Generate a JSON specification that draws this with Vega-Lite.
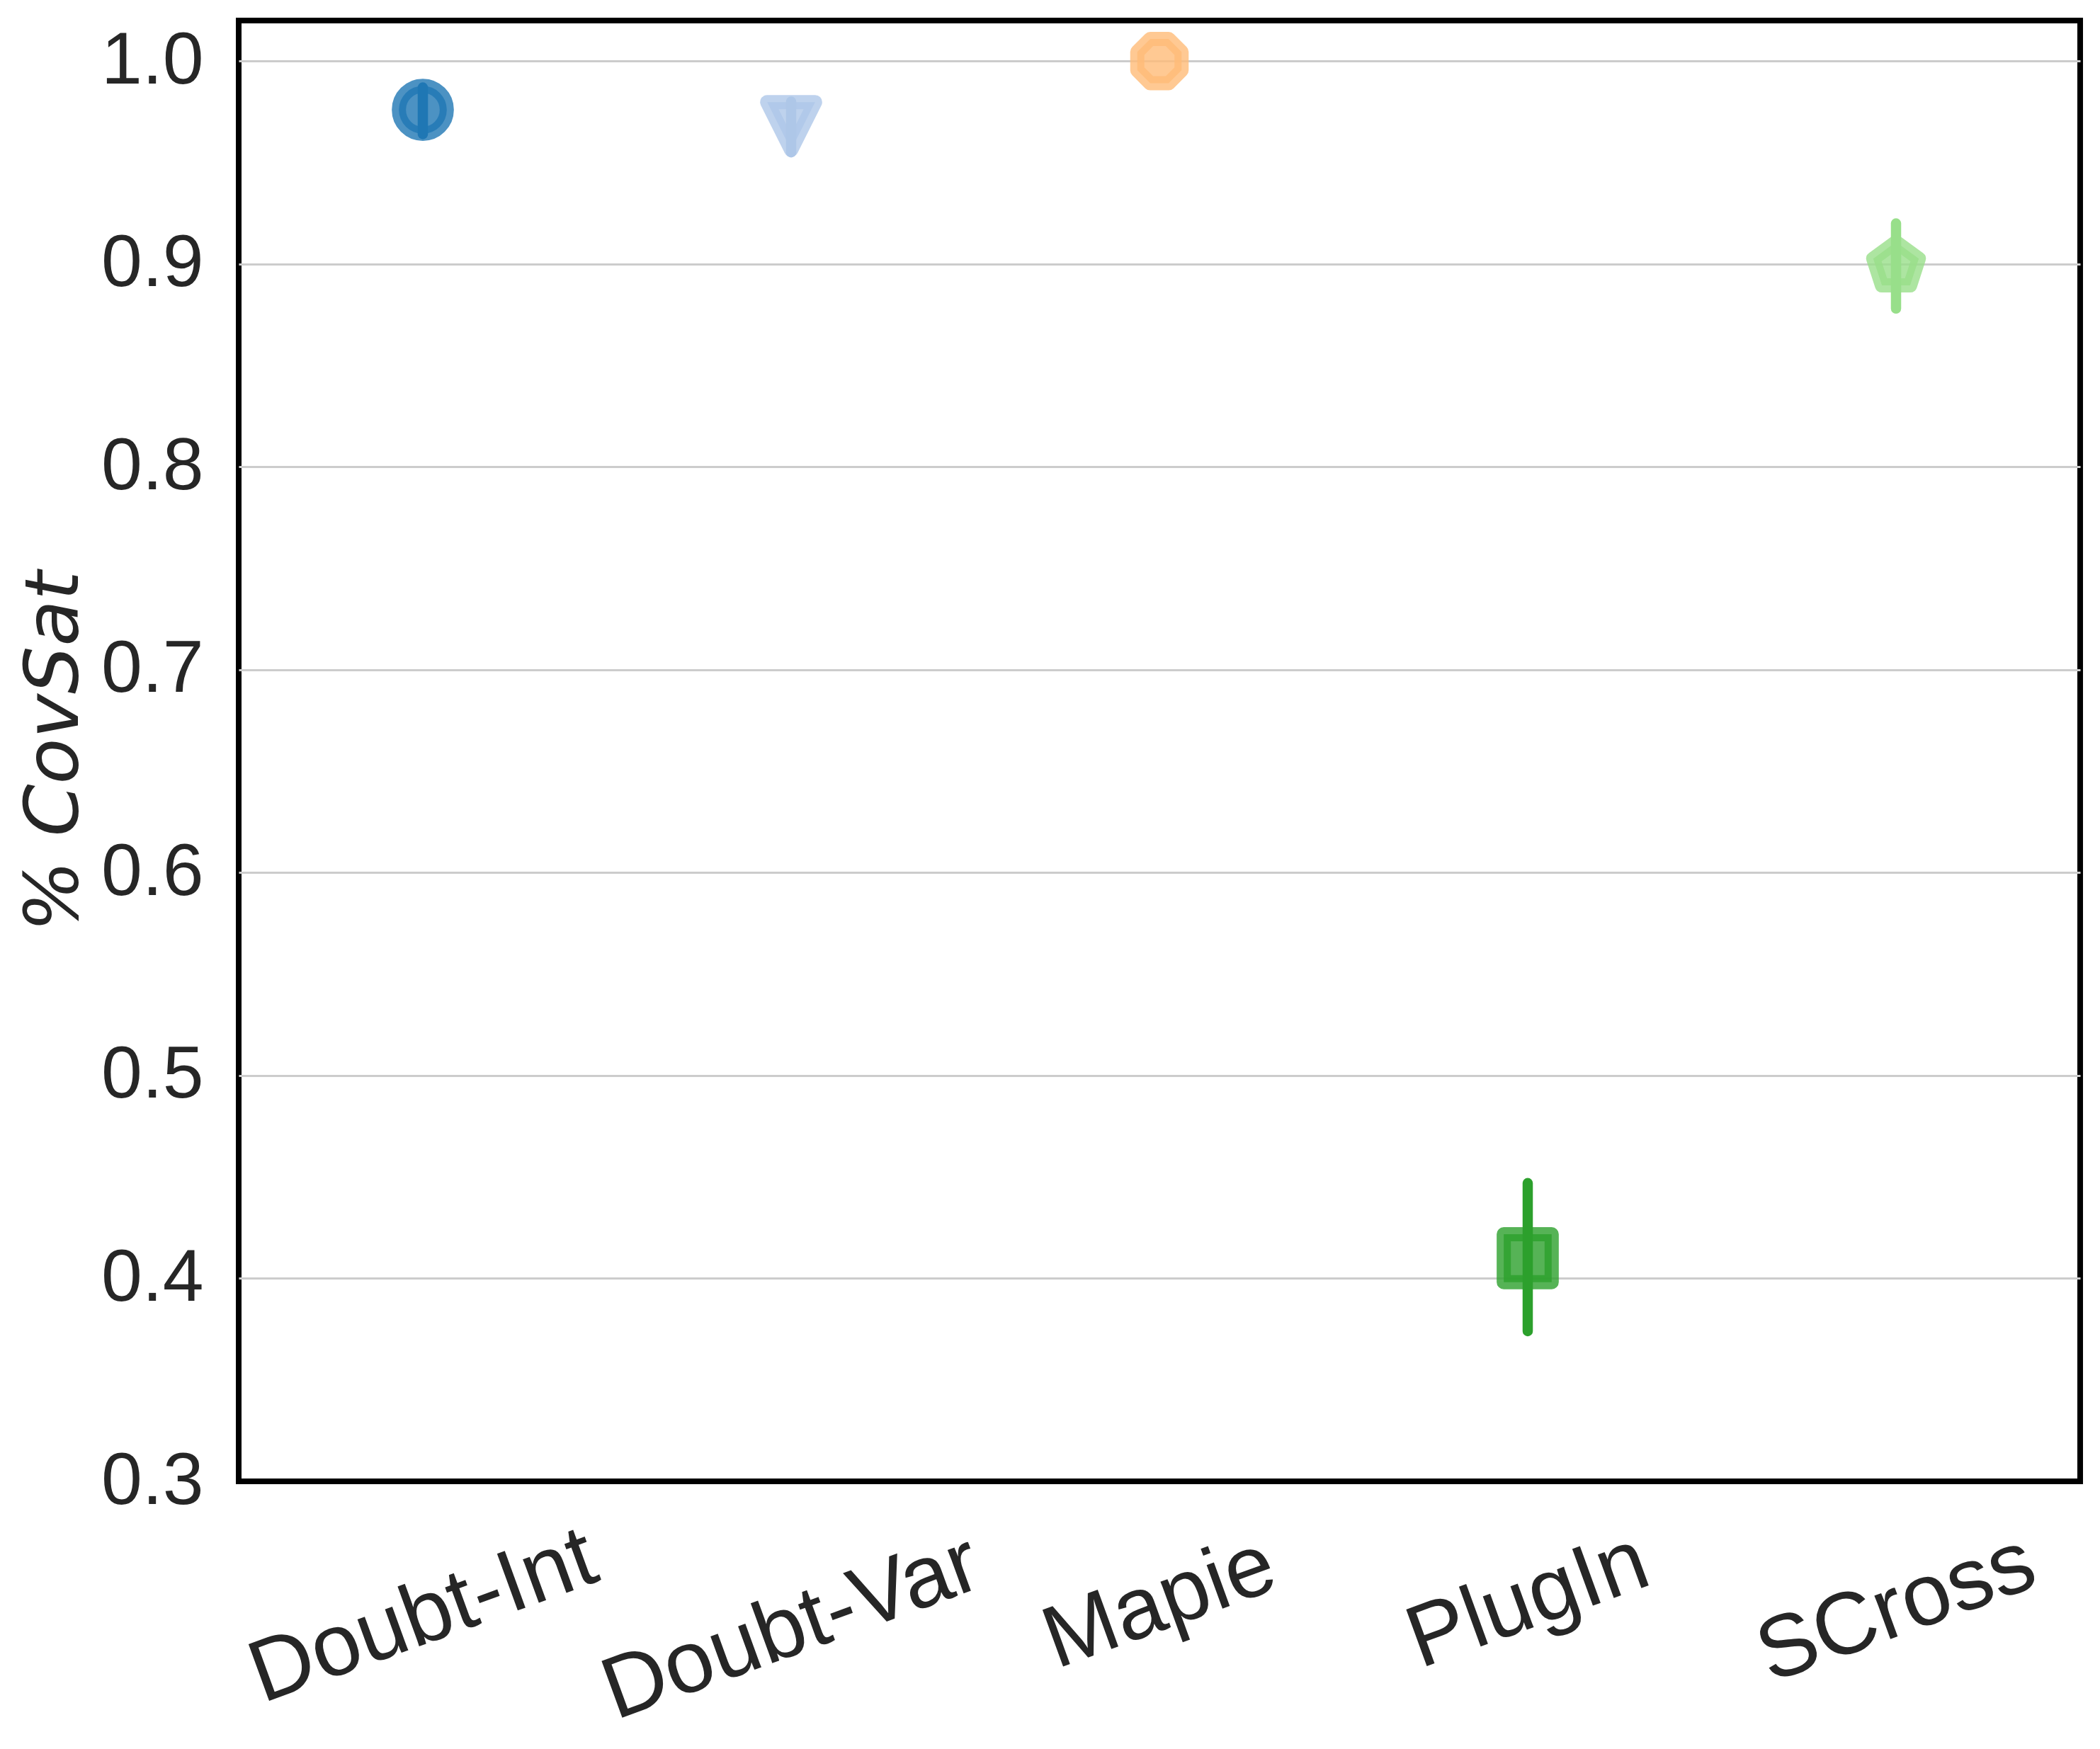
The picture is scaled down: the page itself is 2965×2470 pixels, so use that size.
{
  "$schema": "https://vega.github.io/schema/vega-lite/v6.json",
  "width": 2600,
  "height": 2063,
  "autosize": {"type": "none"},
  "padding": {"left": 337, "top": 29, "right": 28, "bottom": 378},
  "background": "white",
  "view": {"stroke": "#000000", "strokeWidth": 8},
  "data": {
    "values": [
      {"method": "Doubt-Int", "mean": 0.976, "lower": 0.964, "upper": 0.987},
      {"method": "Doubt-Var", "mean": 0.968, "lower": 0.955, "upper": 0.980},
      {"method": "Mapie", "mean": 1.0, "lower": null, "upper": null},
      {"method": "PlugIn", "mean": 0.410, "lower": 0.374, "upper": 0.447},
      {"method": "SCross", "mean": 0.899, "lower": 0.878, "upper": 0.920}
    ]
  },
  "encoding": {
    "x": {
      "field": "method",
      "type": "nominal",
      "sort": null,
      "title": null,
      "scale": {"type": "point", "padding": 0.5},
      "axis": {
        "labelPadding": {
          "condition": [
            {"test": "datum.value === 'Doubt-Var'", "value": 207},
            {"test": "datum.value === 'Mapie'", "value": 172},
            {"test": "datum.value === 'PlugIn'", "value": 169},
            {"test": "datum.value === 'SCross'", "value": 180}
          ],
          "value": 191
        }
      }
    }
  },
  "layer": [
    {
      "mark": {
        "type": "point",
        "filled": true,
        "opacity": 1,
        "fillOpacity": 0.8,
        "strokeOpacity": 0.8,
        "strokeWidth": 20,
        "strokeJoin": "round",
        "size": 4580
      },
      "encoding": {
        "y": {
          "field": "mean",
          "type": "quantitative",
          "title": "% CovSat",
          "scale": {"domain": [0.3, 1.02], "nice": false, "zero": false},
          "axis": {
            "values": [0.3, 0.4, 0.5, 0.6, 0.7, 0.8, 0.9, 1.0],
            "format": ".1f",
            "gridColor": {"condition": {"test": "datum.value < 0.35", "value": "transparent"}, "value": "#cccccc"}
          }
        },
        "shape": {
          "field": "method",
          "type": "nominal",
          "legend": null,
          "scale": {
            "domain": ["Doubt-Int", "Doubt-Var", "Mapie", "PlugIn", "SCross"],
            "range": [
              "circle",
              "M0,1L-1,-1L1,-1Z",
              "M0.924,0.383L0.383,0.924L-0.383,0.924L-0.924,0.383L-0.924,-0.383L-0.383,-0.924L0.383,-0.924L0.924,-0.383Z",
              "square",
              "M0,-1L-0.951,-0.309L-0.588,0.809L0.588,0.809L0.951,-0.309Z"
            ]
          }
        },
        "fill": {
          "field": "method",
          "type": "nominal",
          "legend": null,
          "scale": {
            "domain": ["Doubt-Int", "Doubt-Var", "Mapie", "PlugIn", "SCross"],
            "range": ["#1f77b4", "#aec7e8", "#ffbb78", "#2ca02c", "#98df8a"]
          }
        },
        "stroke": {
          "field": "method",
          "type": "nominal",
          "legend": null,
          "scale": {
            "domain": ["Doubt-Int", "Doubt-Var", "Mapie", "PlugIn", "SCross"],
            "range": ["#1f77b4", "#aec7e8", "#ffbb78", "#2ca02c", "#98df8a"]
          }
        }
      }
    },
    {
      "transform": [{"filter": "datum.lower != null"}],
      "mark": {"type": "rule", "strokeWidth": 14.5, "strokeCap": "round"},
      "encoding": {
        "y": {"field": "lower", "type": "quantitative", "title": "% CovSat"},
        "y2": {"field": "upper"},
        "color": {
          "field": "method",
          "type": "nominal",
          "legend": null,
          "scale": {
            "domain": ["Doubt-Int", "Doubt-Var", "Mapie", "PlugIn", "SCross"],
            "range": ["#1f77b4", "#aec7e8", "#ffbb78", "#2ca02c", "#98df8a"]
          }
        }
      }
    }
  ],
  "config": {
    "font": "Liberation Sans",
    "axis": {
      "domain": false,
      "ticks": false,
      "tickSize": 0,
      "labelColor": "#262626",
      "titleColor": "#262626",
      "labelFont": "Liberation Sans",
      "labelLimit": 2000
    },
    "axisX": {
      "grid": false,
      "labelFontSize": 124,
      "labelAngle": -20,
      "labelAlign": "center",
      "labelBaseline": "middle"
    },
    "axisY": {
      "grid": true,
      "gridWidth": 3,
      "labelFontSize": 104,
      "labelPadding": 50,
      "labelFlush": false,
      "labelOverlap": false,
      "labelBaseline": "middle",
      "titleFont": "DejaVu Sans",
      "titleFontStyle": "italic",
      "titleFontWeight": "normal",
      "titleFontSize": 106,
      "titlePadding": 33,
      "titleBaseline": "alphabetic"
    }
  }
}
